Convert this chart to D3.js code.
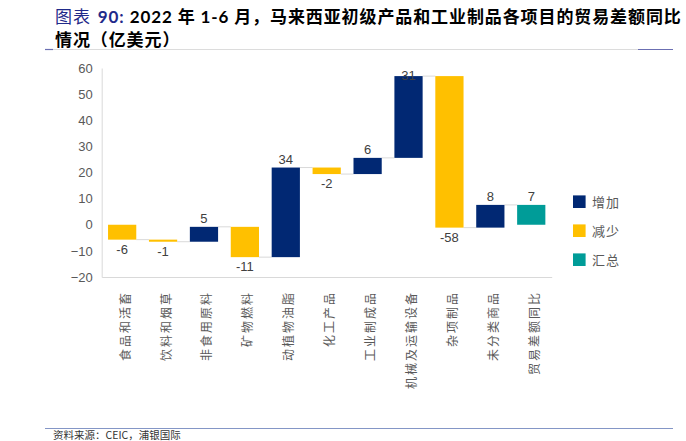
<!DOCTYPE html>
<html><head><meta charset="utf-8">
<script src="https://cdn.jsdelivr.net/npm/d3@7/dist/d3.min.js"></script>
<style>
html,body{margin:0;padding:0;background:#fff;}
svg{display:block;}
</style></head>
<body>
<svg id="c" width="686" height="441"></svg>
<script>
const categories = ["食品和活畜","饮料和烟草","非食用原料","矿物燃料","动植物油脂","化工产品","工业制成品","机械及运输设备","杂项制品","未分类商品","贸易差额同比"];
const changes = [-5.7, -0.8, 5.7, -11.6, 34.3, -2.5, 6.2, 31.3, -58.0, 8.7];
const totalValue = 7.6;
const labels = ["-6","-1","5","-11","34","-2","6","31","-58","8","7"];
const yTicks = [60,50,40,30,20,10,0,-10,-20];
const legendItems = ["增加","减少","汇总"];

(function(){
const colors = {up:"#012873", down:"#FFC000", total:"#009C98"};
const cjk = "'Noto Sans CJK SC','Noto Sans',sans-serif";
const svg = d3.select("#c");

let level = 0;
const rows = changes.map((d,i)=>{
  const start = level; level += d;
  return {cat:categories[i], start, end:level, type: d>=0?"up":"down", label:labels[i]};
});
rows.push({cat:categories[10], start:0, end:totalValue, type:"total", label:labels[10]});

const pL = 101.7, pR = 551.7, pT = 68, pB = 277;
const x = d3.scaleBand().domain(categories).range([pL,pR]).paddingInner(0.31).paddingOuter(0.155);
const y = d3.scaleLinear().domain([-20,60]).range([pB,pT]);

const yAxis = d3.axisLeft(y).tickValues(yTicks).tickSize(0).tickPadding(9).tickFormat(d3.format("d"));
const gy = svg.append("g").attr("transform",`translate(${pL},0)`).call(yAxis);
gy.select(".domain").attr("stroke","#d9d9d9");
gy.selectAll("text").attr("fill","#595959").style("font-family","'Liberation Sans',Arial,sans-serif").style("font-size","13px");

const gx = svg.append("g").attr("transform",`translate(0,${pB})`).call(d3.axisBottom(x).tickSize(0).tickFormat(""));
gx.select(".domain").attr("stroke","#d9d9d9");

svg.append("g").selectAll("line").data(rows.slice(0,-1)).join("line")
  .attr("x1",(d)=>x(d.cat)+x.bandwidth())
  .attr("x2",(d,i)=>x(categories[i+1]))
  .attr("y1",d=>y(d.end)).attr("y2",d=>y(d.end))
  .attr("stroke","#d9d9d9").attr("stroke-width",1);

svg.append("g").selectAll("rect").data(rows).join("rect")
  .attr("x",d=>x(d.cat)).attr("width",x.bandwidth())
  .attr("y",d=>y(Math.max(d.start,d.end)))
  .attr("height",d=>Math.abs(y(d.start)-y(d.end)))
  .attr("fill",d=>colors[d.type]);

svg.append("g").selectAll("text").data(rows).join("text")
  .attr("x",d=>x(d.cat)+x.bandwidth()/2)
  .attr("y",d=>{
    if(d.type==="down") return y(Math.min(d.start,d.end))+14;
    return Math.max(y(Math.max(d.start,d.end))-3.5, pT+12);
  })
  .attr("text-anchor","middle")
  .attr("fill","#404040")
  .style("font-family","'Liberation Sans',Arial,sans-serif").style("font-size","13px")
  .text(d=>d.label);

svg.append("g").selectAll("text").data(categories).join("text")
  .attr("transform",d=>`translate(${x(d)+x.bandwidth()/2+2},291) rotate(-90)`)
  .attr("text-anchor","end")
  .attr("dominant-baseline","central")
  .attr("fill","#595959")
  .style("font-family",cjk).style("font-size","12px").style("letter-spacing","2px")
  .text(d=>d);

const lg = svg.append("g").selectAll("g").data(legendItems).join("g")
  .attr("transform",(d,i)=>`translate(573,${201.7+i*29})`);
lg.append("rect").attr("x",0).attr("y",-6.3).attr("width",12.6).attr("height",12.6)
  .attr("fill",(d,i)=>[colors.up,colors.down,colors.total][i]);
lg.append("text").attr("x",19).attr("y",0).attr("dominant-baseline","central")
  .attr("fill","#595959").style("font-family",cjk).style("font-size","13px").style("letter-spacing","1px")
  .text(d=>d);

const t1 = svg.append("text").attr("x",55).attr("y",23).style("font-size","17px").style("font-family",cjk).style("letter-spacing","0.9px");
t1.append("tspan").attr("fill","#1F2A8A").text("图表");
t1.append("tspan").attr("dx",7).attr("fill","#1F2A8A").attr("font-weight","bold").style("font-family","Lato,"+cjk).text("90: ");
t1.append("tspan").attr("fill","#000").attr("font-weight","bold").style("font-family","Lato,"+cjk).text("2022 ");
t1.append("tspan").attr("fill","#000").attr("font-weight","bold").text("年 ");
t1.append("tspan").attr("fill","#000").attr("font-weight","bold").style("font-family","Lato,"+cjk).text("1-6 ");
t1.append("tspan").attr("fill","#000").attr("font-weight","bold").text("月，马来西亚初级产品和工业制品各项目的贸易差额同比");
svg.append("text").attr("x",55).attr("y",46).style("font-size","17px").style("font-family",cjk).style("letter-spacing","0.9px")
  .attr("fill","#000").attr("font-weight","bold").text("情况（亿美元）");

svg.append("line").attr("x1",45).attr("x2",673).attr("y1",49.5).attr("y2",49.5).attr("stroke","#dcdcdc").attr("stroke-width",1);
svg.append("line").attr("x1",45).attr("x2",53).attr("y1",49.5).attr("y2",49.5).attr("stroke","#6b6fb2").attr("stroke-width",1.2);
svg.append("line").attr("x1",638).attr("x2",673).attr("y1",49.5).attr("y2",49.5).attr("stroke","#6b6fb2").attr("stroke-width",1.2);

svg.append("line").attr("x1",45).attr("x2",673).attr("y1",428.5).attr("y2",428.5).attr("stroke","#8496c6").attr("stroke-width",1.2);
svg.append("text").attr("x",53).attr("y",439).attr("fill","#333").style("font-family",cjk).style("font-size","10.5px")
  .text("资料来源：CEIC，浦银国际");
})();
</script>
</body></html>
